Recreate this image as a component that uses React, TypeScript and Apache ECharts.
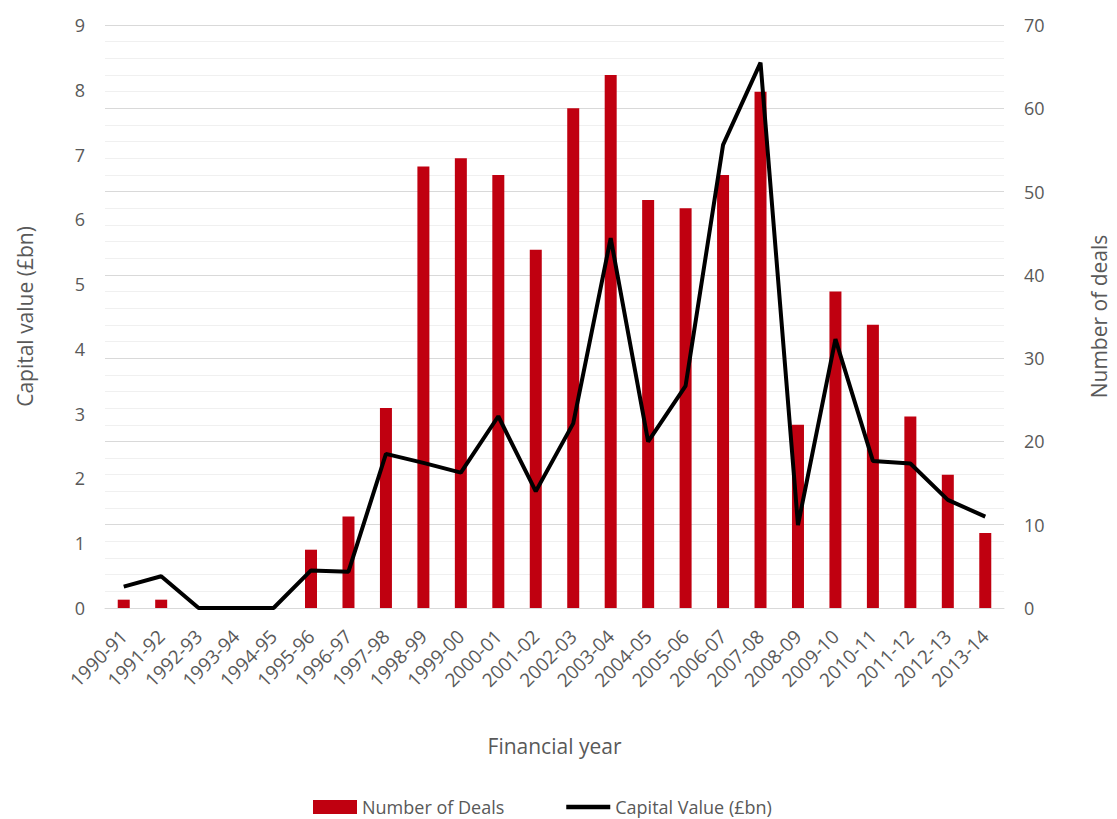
import React, { useEffect, useRef } from "react";
import * as echarts from "echarts";

const categories = [
  "1990-91", "1991-92", "1992-93", "1993-94", "1994-95", "1995-96", "1996-97", "1997-98",
  "1998-99", "1999-00", "2000-01", "2001-02", "2002-03", "2003-04", "2004-05", "2005-06",
  "2006-07", "2007-08", "2008-09", "2009-10", "2010-11", "2011-12", "2012-13", "2013-14",
];

const numberOfDeals = [1, 1, 0, 0, 0, 7, 11, 24, 53, 54, 52, 43, 60, 64, 49, 48, 52, 62, 22, 38, 34, 23, 16, 9];

const capitalValue = [
  0.33, 0.49, 0, 0, 0, 0.58, 0.56, 2.38, 2.24, 2.09, 2.96, 1.8, 2.85, 5.71, 2.57, 3.43,
  7.15, 8.42, 1.28, 4.15, 2.27, 2.23, 1.67, 1.41,
];

const FONT = "'Open Sans', 'Noto Sans', sans-serif";
const TEXT = "#595959";

export default function App() {
  const ref = useRef<HTMLDivElement>(null);
  useEffect(() => {
    if (!ref.current) return;
    const chart = echarts.init(ref.current, null, { renderer: "svg" });
    chart.setOption({
      animation: false,
      backgroundColor: "#ffffff",
      textStyle: { fontFamily: FONT },
      grid: { left: 105, right: 110, top: 25, bottom: 211, containLabel: false },
      legend: {
        bottom: -2,
        left: 308,
        itemWidth: 44,
        itemHeight: 14,
        itemGap: 62,
        textStyle: { color: TEXT, fontSize: 18, fontFamily: FONT },
        data: [
          { name: "Number of Deals", icon: "rect" },
          { name: "Capital Value (£bn)", icon: "path://M0,0H44V4.5H0Z" },
        ],
      },
      xAxis: {
        type: "category",
        data: categories,
        name: "Financial year",
        nameLocation: "middle",
        nameGap: 127,
        nameTextStyle: { color: TEXT, fontSize: 21, fontFamily: FONT },
        axisLine: { show: true, lineStyle: { color: "#d9d9d9", width: 1 } },
        axisTick: { show: false },
        axisLabel: { rotate: 45, color: TEXT, fontSize: 19, fontFamily: FONT, margin: 25, interval: 0 },
      },
      yAxis: [
        {
          type: "value",
          min: 0,
          max: 9,
          interval: 1,
          name: "Capital value (£bn)",
          nameLocation: "middle",
          nameGap: 70,
          nameTextStyle: { color: TEXT, fontSize: 21, fontFamily: FONT },
          axisLine: { show: false },
          axisTick: { show: false },
          splitLine: { show: false },
          axisLabel: { color: TEXT, fontSize: 18, fontFamily: FONT, margin: 20 },
        },
        {
          type: "value",
          min: 0,
          max: 70,
          interval: 10,
          position: "right",
          name: "Number of deals",
          nameLocation: "middle",
          nameGap: 84,
          nameTextStyle: { color: TEXT, fontSize: 21, fontFamily: FONT },
          axisLine: { show: false },
          axisTick: { show: false },
          splitLine: { show: true, lineStyle: { color: "#d9d9d9", width: 1 } },
          minorTick: { show: false, splitNumber: 5 },
          minorSplitLine: { show: true, lineStyle: { color: "#f0f0f0", width: 1 } },
          axisLabel: { color: TEXT, fontSize: 18, fontFamily: FONT, margin: 20 },
        },
      ],
      series: [
        {
          name: "Number of Deals",
          type: "bar",
          yAxisIndex: 1,
          data: numberOfDeals,
          barWidth: 12,
          itemStyle: { color: "#c00010" },
        },
        {
          name: "Capital Value (£bn)",
          type: "line",
          yAxisIndex: 0,
          data: capitalValue,
          symbol: "none",
          lineStyle: { color: "#000000", width: 4 },
          itemStyle: { color: "#000000" },
        },
      ],
    });
    return () => chart.dispose();
  }, []);
  return (
    <div
      ref={ref}
      style={{ position: "absolute", left: 0, top: 0, width: 1117, height: 819 }}
    />
  );
}
